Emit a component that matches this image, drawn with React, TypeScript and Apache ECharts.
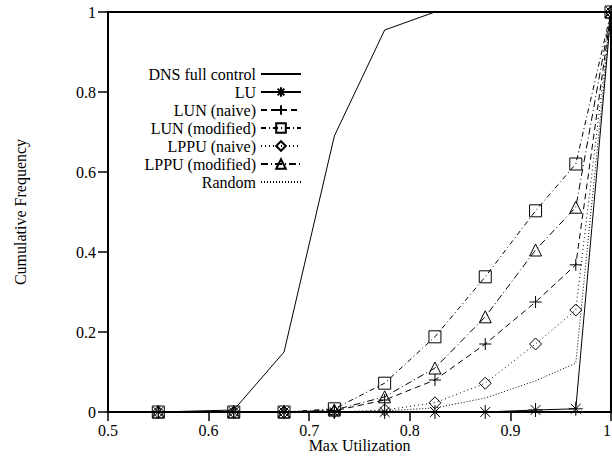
import React, { useEffect, useRef } from "react";
import * as echarts from "echarts";

const xValues = [0.55, 0.625, 0.675, 0.725, 0.775, 0.825, 0.875, 0.925, 0.965, 1.0];
const dnsFull = [0, 0.005, 0.15, 0.69, 0.955, 1, 1, 1, 1, 1];
const lu = [0, 0, 0, 0, 0, 0, 0, 0.005, 0.008, 1];
const lunNaive = [0, 0, 0, 0.003, 0.03, 0.08, 0.17, 0.275, 0.368, 1];
const lunModified = [0, 0, 0, 0.008, 0.072, 0.188, 0.338, 0.503, 0.62, 1];
const lppuNaive = [0, 0, 0, 0, 0.005, 0.023, 0.072, 0.17, 0.255, 1];
const lppuModified = [0, 0, 0, 0.005, 0.038, 0.11, 0.238, 0.405, 0.512, 1];
const randomSel = [0, 0, 0, 0, 0.003, 0.01, 0.035, 0.078, 0.122, 1];

const seriesNames = [
  "DNS full control",
  "LU",
  "LUN (naive)",
  "LUN (modified)",
  "LPPU (naive)",
  "LPPU (modified)",
  "Random",
];
const xTicks = [0.5, 0.6, 0.7, 0.8, 0.9, 1];
const yTicks = [0, 0.2, 0.4, 0.6, 0.8, 1];

const FONT = "'Liberation Serif', 'Times New Roman', serif";
const FS = 16;
const ASTERISK = "path://M0,5L10,5M5,0L5,10M1.5,1.5L8.5,8.5M1.5,8.5L8.5,1.5";
const PLUS = "path://M0,5L10,5M5,0L5,10";

export default function App() {
  const ref = useRef<HTMLDivElement>(null);
  useEffect(() => {
    if (!ref.current) return;
    const chart = echarts.init(ref.current, null, { renderer: "svg" });
    const values = [dnsFull, lu, lunNaive, lunModified, lppuNaive, lppuModified, randomSel];
    const symbols = ["none", ASTERISK, PLUS, "rect", "diamond", "triangle", "none"];
    const dashes: any[] = [
      "solid",
      "solid",
      [6, 4],
      [5, 3, 1, 3],
      [1, 3],
      [7, 3, 1, 3],
      [1, 2],
    ];
    const sizes = [0, 14, 12, 12, 12, 12, 0];
    const series = seriesNames.map((name, i) => ({
      name,
      type: "line",
      data: xValues.map((x, j) => [x, values[i][j]]),
      symbol: symbols[i],
      symbolSize: sizes[i],
      showSymbol: symbols[i] !== "none",
      lineStyle: { color: "#000", width: 1, type: dashes[i] },
      itemStyle: { color: "none", borderColor: "#000", borderWidth: 1 },
      emphasis: { disabled: true },
      z: 10 - i,
    }));
    const legends = seriesNames.map((name, i) => {
      const noSymbol = symbols[i] === "none";
      return {
        data: [
          noSymbol
            ? { name, itemStyle: { color: "none", borderColor: "none", borderWidth: 0, opacity: 0 } }
            : { name },
        ],
        orient: "vertical",
        align: "right",
        right: 310,
        top: 66 + i * 18,
        padding: 0,
        itemWidth: 40,
        itemHeight: 12,
        itemGap: 0,
        selectedMode: false,
        textStyle: { fontFamily: FONT, fontSize: FS, color: "#000" },
      };
    });
    chart.setOption({
      animation: false,
      backgroundColor: "#fff",
      textStyle: { fontFamily: FONT },
      legend: legends,
      grid: {
        left: 108,
        right: 1,
        top: 12,
        bottom: 44,
        containLabel: false,
        outerBoundsMode: "none",
        show: true,
        borderColor: "#000",
        borderWidth: 2,
        backgroundColor: "transparent",
      },
      xAxis: {
        type: "value",
        min: xTicks[0],
        max: xTicks[xTicks.length - 1],
        interval: 0.1,
        name: "Max Utilization",
        nameLocation: "middle",
        nameGap: 25,
        nameMoveOverlap: false,
        nameTextStyle: { fontFamily: FONT, fontSize: FS, color: "#000" },
        axisLine: { lineStyle: { color: "#000", width: 2 } },
        axisTick: { show: true, length: 9, inside: false, lineStyle: { color: "#000", width: 1.5 } },
        axisLabel: {
          fontFamily: FONT,
          fontSize: FS,
          color: "#000",
          margin: 10,
          alignMaxLabel: "right",
          formatter: (v: number) => String(+v.toFixed(1)),
        },
        splitLine: { show: false },
      },
      yAxis: {
        type: "value",
        min: yTicks[0],
        max: yTicks[yTicks.length - 1],
        interval: 0.2,
        name: "Cumulative Frequency",
        nameLocation: "middle",
        nameGap: 80,
        nameMoveOverlap: false,
        nameTextStyle: { fontFamily: FONT, fontSize: FS, color: "#000" },
        axisLine: { show: true, lineStyle: { color: "#000", width: 2 } },
        axisTick: { show: true, length: 10, inside: false, lineStyle: { color: "#000", width: 1.5 } },
        axisLabel: {
          fontFamily: FONT,
          fontSize: FS,
          color: "#000",
          margin: 12,
          formatter: (v: number) => String(+v.toFixed(1)),
        },
        splitLine: { show: false },
      },
      series,
    });
    return () => chart.dispose();
  }, []);
  return (
    <div
      ref={ref}
      style={{ position: "absolute", left: 0, top: 0, width: 612, height: 456, background: "#fff" }}
    />
  );
}
